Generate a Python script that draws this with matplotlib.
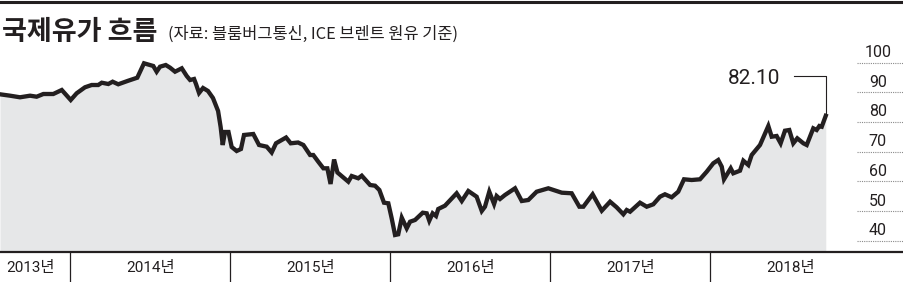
import matplotlib
matplotlib.use("Agg")
import matplotlib.pyplot as plt
from matplotlib.lines import Line2D
from matplotlib import font_manager as fm

# ---------------- data ----------------
dates = [2013.560, 2013.623, 2013.685, 2013.748, 2013.789, 2013.831, 2013.893, 2013.946,
         2014.002, 2014.039, 2014.091, 2014.133, 2014.174, 2014.196, 2014.237, 2014.264,
         2014.299, 2014.362, 2014.418, 2014.460, 2014.518, 2014.539, 2014.560, 2014.596,
         2014.623, 2014.654, 2014.696, 2014.727, 2014.748, 2014.773, 2014.785, 2014.804,
         2014.829, 2014.860, 2014.891, 2014.923, 2014.939, 2014.952, 2014.966, 2014.988,
         2015.008, 2015.039, 2015.066, 2015.085, 2015.143, 2015.179, 2015.227, 2015.258,
         2015.285, 2015.348, 2015.377, 2015.423, 2015.456, 2015.498, 2015.518, 2015.549,
         2015.581, 2015.606, 2015.626, 2015.648, 2015.669, 2015.737, 2015.758, 2015.799,
         2015.821, 2015.873, 2015.904, 2015.931, 2015.960, 2015.987, 2016.008, 2016.029,
         2016.049, 2016.071, 2016.102, 2016.123, 2016.154, 2016.202, 2016.227, 2016.243,
         2016.264, 2016.285, 2016.299, 2016.341, 2016.414, 2016.446, 2016.487, 2016.539,
         2016.571, 2016.591, 2016.618, 2016.648, 2016.664, 2016.685, 2016.716, 2016.779,
         2016.821, 2016.862, 2016.914, 2016.987, 2017.071, 2017.133, 2017.181, 2017.206,
         2017.264, 2017.321, 2017.373, 2017.414, 2017.456, 2017.477, 2017.498, 2017.560,
         2017.602, 2017.643, 2017.685, 2017.716, 2017.758, 2017.799, 2017.835, 2017.883,
         2017.935, 2017.977, 2018.018, 2018.049, 2018.071, 2018.085, 2018.127, 2018.143,
         2018.185, 2018.206, 2018.237, 2018.258, 2018.310, 2018.362, 2018.383, 2018.414,
         2018.439, 2018.466, 2018.493, 2018.518, 2018.543, 2018.581, 2018.602, 2018.643,
         2018.664, 2018.681, 2018.696, 2018.721]
prices = [89.33, 88.86, 88.32, 88.86, 88.52, 89.43, 89.43, 90.78,
          87.41, 89.67, 91.69, 92.46, 92.46, 93.23, 92.80, 93.57,
          92.70, 93.91, 94.92, 99.77, 98.86, 96.94, 98.62, 99.19,
          98.29, 96.94, 98.08, 95.49, 94.14, 94.48, 92.80, 89.77,
          91.45, 90.44, 88.08, 83.71, 78.32, 72.26, 76.64, 76.64,
          71.59, 70.24, 70.91, 75.63, 75.96, 72.26, 71.69, 69.73,
          72.83, 74.78, 72.83, 73.10, 72.26, 68.89, 68.89, 66.64,
          64.41, 64.41, 59.13, 67.38, 63.00, 59.90, 61.82, 61.05,
          61.92, 58.79, 58.55, 57.11, 52.83, 52.63, 47.58, 41.96,
          42.19, 47.78, 44.21, 46.43, 47.01, 49.46, 49.26, 46.77,
          49.26, 48.35, 50.71, 51.82, 56.00, 53.40, 56.77, 54.85,
          50.04, 51.48, 56.53, 52.39, 55.09, 54.08, 55.42, 57.68,
          53.40, 53.74, 56.53, 57.68, 56.20, 56.00, 51.48, 51.48,
          55.66, 50.14, 53.17, 51.28, 48.92, 50.37, 49.80, 52.83,
          51.48, 52.29, 54.85, 55.66, 54.65, 56.53, 60.71, 60.47,
          60.71, 63.27, 66.10, 67.21, 64.95, 60.71, 64.41, 62.73,
          63.61, 66.97, 65.52, 68.89, 72.26, 78.66, 75.05, 75.29,
          72.83, 77.07, 77.31, 72.83, 74.51, 72.83, 72.26, 77.88,
          77.31, 78.66, 78.42, 82.10]
years = [2013, 2014, 2015, 2016, 2017, 2018]
year_labels = ["2013년", "2014년", "2015년", "2016년", "2017년", "2018년"]
y_ticks = [40, 50, 60, 70, 80, 90, 100]
last_label = "82.10"
title = "국제유가 흐름"
subtitle = "(자료: 블룸버그통신, ICE 브렌트 원유 기준)"

# ---------------- fonts ----------------
narrow = ["Roboto", "Noto Sans CJK KR", "DejaVu Sans"]
cjk = ["Noto Sans CJK KR", "DejaVu Sans"]

# ---------------- layout ----------------
W, H = 904, 282
fig = plt.figure(figsize=(W / 100, H / 100), dpi=100)
fig.patch.set_facecolor("white")

XMIN = 2013.56
XMAX = XMIN + W / 160.0
YMIN, YMAX = 36.23, 121.08

ax = fig.add_axes([0, 30 / H, 1, 252 / H])
ax.set_xlim(XMIN, XMAX)
ax.set_ylim(YMIN, YMAX)
ax.set_facecolor("none")
for s in ["top", "right", "left"]:
    ax.spines[s].set_visible(False)
ax.spines["bottom"].set_linewidth(1.6)
ax.spines["bottom"].set_color("#231f20")
ax.set_xticks([])
ax.set_yticks([])

ink = "#231f20"
ax.fill_between(dates, prices, YMIN, color="#e6e7e8", lw=0, zorder=1)
ax.plot(dates, prices, color=ink, lw=3.1, solid_joinstyle="miter", zorder=3)

# y tick labels and dotted markers on the right
for v in y_ticks:
    ax.plot([0.948, 1.0], [v, v], transform=ax.get_yaxis_transform(),
            ls=(0, (1, 1)), color="#8a8a8a", lw=0.8, clip_on=False)
    ax.text(0.971, v + 3.4, str(v), transform=ax.get_yaxis_transform(),
            ha="center", va="center", fontsize=11.5, family=narrow, color=ink)

# year separators and labels below the axis
xt = ax.get_xaxis_transform()
for yr in years[1:]:
    ax.plot([yr, yr], [0, -30 / 252], transform=xt, color=ink, lw=0.9, clip_on=False)
for yr, lab in zip(years, year_labels):
    xc = (XMIN + 2014) / 2 - 0.03 if yr == years[0] else yr + 0.5
    ax.text(xc, -16 / 252, lab, transform=xt, ha="center", va="center",
            fontsize=11, family=narrow, color=ink)

# callout for last value
lx, lv = dates[-1], prices[-1]
top_v = 95.6
ax.plot([lx, lx, lx - 0.20], [lv, top_v, top_v], color=ink, lw=0.8, zorder=4)
ax.text(lx - 0.286, top_v - 0.8, last_label, ha="right", va="center",
        fontsize=15, family=narrow, color=ink)

# top rule
fig.add_artist(Line2D([0, 1], [1 - 1.5 / H, 1 - 1.5 / H], color=ink, lw=2.2,
                      transform=fig.transFigure))

# titles
fig.text(2 / W, 1 - 40 / H, title, ha="left", va="baseline", fontsize=19.5,
         fontweight="heavy", family=cjk, color=ink)
fig.text(168 / W, 1 - 39 / H, subtitle, ha="left", va="baseline", fontsize=11.8,
         family=cjk, color=ink)

fig.savefig("out.png", dpi=100)
